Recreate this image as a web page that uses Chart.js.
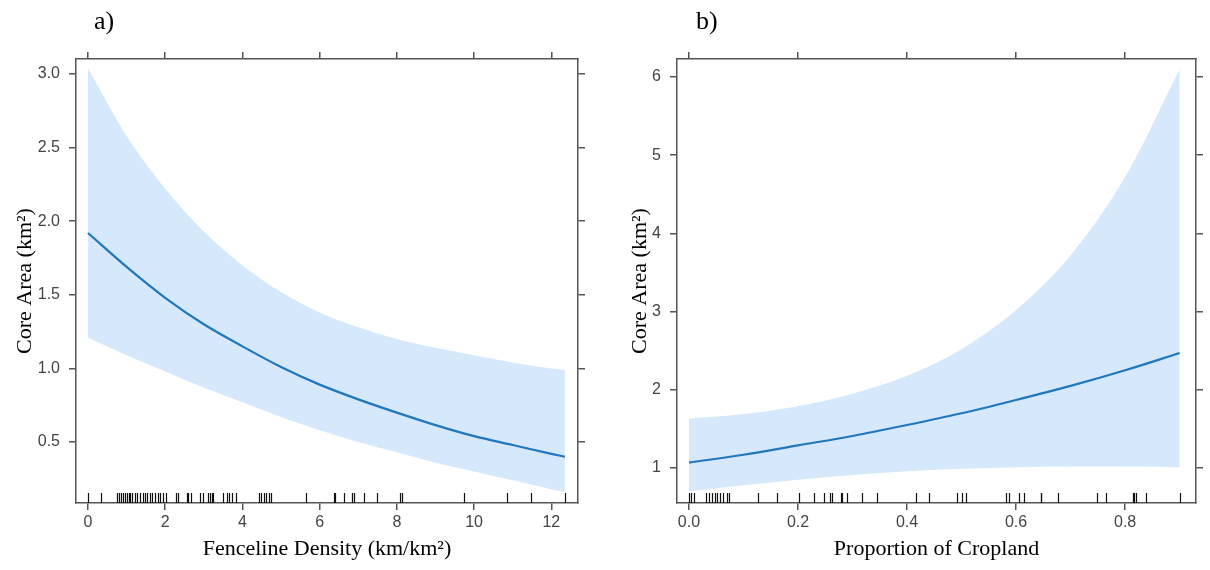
<!DOCTYPE html>
<html>
<head>
<meta charset="utf-8">
<script src="https://cdn.jsdelivr.net/npm/chart.js@4.4.0/dist/chart.umd.min.js"></script>
<style>
  body { margin: 0; background: #fff; }
  #wrap { position: relative; width: 1210px; height: 570px; }
  canvas { position: absolute; top: 0; }
  .lbl { position: absolute; top: 6px; font: 26px "Liberation Serif", serif; color: #000; }
</style>
</head>
<body>
<div id="wrap">
  <canvas id="chartA" width="605" height="570" style="left:0"></canvas>
  <canvas id="chartB" width="605" height="570" style="left:605px"></canvas>
  <div class="lbl" style="left:94px">a)</div>
  <div class="lbl" style="left:696px">b)</div>
</div>
<script>
// panel a - fenceline density
let densX = [0, 1, 2, 3, 4, 5, 6, 7, 8, 9, 10, 11, 12, 12.35];
let densFit = [1.92, 1.69, 1.48, 1.30, 1.15, 1.01, 0.89, 0.79, 0.70, 0.615, 0.54, 0.48, 0.42, 0.40];
let densUpper = [3.04, 2.58, 2.22, 1.93, 1.70, 1.52, 1.38, 1.28, 1.20, 1.14, 1.09, 1.04, 1.00, 0.99];
let densLower = [1.21, 1.09, 0.98, 0.87, 0.77, 0.67, 0.58, 0.50, 0.43, 0.36, 0.30, 0.24, 0.18, 0.16];
let densRug = [0.0, 0.34, 0.76, 0.80, 0.85, 0.92, 0.96, 1.01, 1.05, 1.09, 1.14, 1.22, 1.28, 1.35,
  1.42, 1.48, 1.54, 1.61, 1.67, 1.74, 1.82, 1.87, 1.95, 2.02, 2.27, 2.34, 2.56, 2.60, 2.67,
  2.90, 2.97, 3.11, 3.16, 3.20, 3.24, 3.50, 3.59, 3.65, 3.72, 3.83, 4.43, 4.49, 4.55, 4.62,
  4.69, 4.75, 5.65, 6.36, 6.41, 6.62, 6.83, 6.89, 7.16, 7.48, 8.09, 8.14, 9.73, 10.85, 11.46, 12.35];
let densTicksX = [0, 2, 4, 6, 8, 10, 12];
let densTicksY = [0.5, 1.0, 1.5, 2.0, 2.5, 3.0];

// panel b - proportion of cropland
let cropX = [0, 0.1, 0.2, 0.3, 0.4, 0.5, 0.6, 0.7, 0.8, 0.9];
let cropFit = [1.07, 1.17, 1.29, 1.41, 1.55, 1.70, 1.87, 2.05, 2.25, 2.47];
let cropUpper = [1.63, 1.69, 1.79, 1.95, 2.18, 2.52, 3.02, 3.72, 4.72, 6.10];
let cropLower = [0.70, 0.78, 0.85, 0.91, 0.96, 0.99, 1.01, 1.02, 1.02, 1.01];
let cropRug = [0.0, 0.003, 0.009, 0.031, 0.036, 0.042, 0.048, 0.052, 0.057, 0.063, 0.069, 0.074,
  0.127, 0.161, 0.201, 0.229, 0.247, 0.259, 0.262, 0.278, 0.281, 0.290, 0.317, 0.345, 0.417,
  0.440, 0.492, 0.501, 0.509, 0.581, 0.587, 0.605, 0.615, 0.645, 0.646, 0.676, 0.749, 0.765,
  0.814, 0.817, 0.820, 0.838, 0.9];
let cropTicksX = [0, 0.2, 0.4, 0.6, 0.8];
let cropTicksY = [1, 2, 3, 4, 5, 6];

const BAND = "#d6e8fb";
const LINE = "#1f77bd";
const FRAME = "#555555";

// rug marks along the bottom of the plot area
const rugPlugin = {
  id: "rug",
  afterDatasetsDraw(chart, args, opts) {
    const ctx = chart.ctx;
    const xs = chart.scales.x;
    const bottom = chart.chartArea.bottom;
    ctx.save();
    ctx.strokeStyle = "#111";
    ctx.lineWidth = 1.2;
    opts.values.forEach(v => {
      const px = Math.round(xs.getPixelForValue(v)) + 0.5;
      ctx.beginPath();
      ctx.moveTo(px, bottom - 10);
      ctx.lineTo(px, bottom);
      ctx.stroke();
    });
    ctx.restore();
  }
};

function pts(xs, ys) {
  return xs.map((x, i) => ({ x: x, y: ys[i] }));
}

function fixSize(prop, size) {
  return function (scale) { scale[prop] = size; };
}

function makeChart(id, cfg) {
  const tickFont = { family: "'Liberation Sans', Arial, sans-serif", size: 16 };
  const titleFont = { family: "'Liberation Serif', 'Times New Roman', serif", size: 22 };
  const grid = { drawOnChartArea: false, drawTicks: true, tickLength: 7, color: FRAME, lineWidth: 1.5 };
  const border = { display: true, color: FRAME, width: 1.5 };
  const fixedTicks = vals => function (scale) {
    scale.ticks = vals.map(v => ({ value: v }));
  };

  return new Chart(document.getElementById(id).getContext("2d"), {
    type: "line",
    data: {
      datasets: [
        {
          data: pts(cfg.x, cfg.lower),
          borderWidth: 0,
          pointRadius: 0,
          fill: false,
          order: 2,
          cubicInterpolationMode: "monotone",
        },
        {
          data: pts(cfg.x, cfg.upper),
          borderWidth: 0,
          pointRadius: 0,
          fill: "-1",
          backgroundColor: BAND,
          order: 1,
          cubicInterpolationMode: "monotone",
        },
        {
          data: pts(cfg.x, cfg.fit),
          borderColor: LINE,
          borderWidth: 2.2,
          pointRadius: 0,
          fill: false,
          order: 0,
          cubicInterpolationMode: "monotone",
        },
      ],
    },
    options: {
      responsive: false,
      animation: false,
      devicePixelRatio: 1,
      layout: { padding: 0 },
      plugins: {
        legend: { display: false },
        tooltip: { enabled: false },
        rug: { values: cfg.rug },
      },
      scales: {
        x: {
          type: "linear",
          position: "bottom",
          min: cfg.xmin,
          max: cfg.xmax,
          afterBuildTicks: fixedTicks(cfg.ticksX),
          afterFit: fixSize("height", 67),
          grid: grid,
          border: border,
          ticks: {
            font: tickFont,
            color: "#444",
            padding: 3,
            maxRotation: 0,
            autoSkip: false,
            callback: cfg.fmtX,
          },
          title: {
            display: true,
            text: cfg.xTitle,
            font: titleFont,
            color: "#000",
            padding: { top: 0, bottom: 8 },
          },
        },
        x2: {
          type: "linear",
          position: "top",
          min: cfg.xmin,
          max: cfg.xmax,
          afterBuildTicks: fixedTicks(cfg.ticksX),
          afterFit: fixSize("height", 59),
          grid: grid,
          border: border,
          ticks: { display: false },
        },
        y: {
          type: "linear",
          position: "left",
          min: cfg.ymin,
          max: cfg.ymax,
          afterBuildTicks: fixedTicks(cfg.ticksY),
          afterFit: fixSize("width", cfg.leftW),
          grid: grid,
          border: border,
          ticks: {
            font: tickFont,
            color: "#444",
            padding: 9,
            autoSkip: false,
            callback: cfg.fmtY,
          },
          title: {
            display: true,
            text: "Core Area (km\u00b2)",
            font: titleFont,
            color: "#000",
            padding: { top: cfg.yTitlePad, bottom: 0 },
          },
        },
        y2: {
          type: "linear",
          position: "right",
          min: cfg.ymin,
          max: cfg.ymax,
          afterBuildTicks: fixedTicks(cfg.ticksY),
          afterFit: fixSize("width", cfg.rightW),
          grid: grid,
          border: border,
          ticks: { display: false },
        },
      },
    },
    plugins: [rugPlugin],
  });
}

makeChart("chartA", {
  x: densX, fit: densFit, upper: densUpper, lower: densLower, rug: densRug,
  ticksX: densTicksX, ticksY: densTicksY,
  xmin: -0.31, xmax: 12.69, ymin: 0.086, ymax: 3.102,
  leftW: 76, rightW: 27, yTitlePad: 12,
  xTitle: "Fenceline Density (km/km\u00b2)",
  fmtX: v => String(v),
  fmtY: v => v.toFixed(1),
});

makeChart("chartB", {
  x: cropX, fit: cropFit, upper: cropUpper, lower: cropLower, rug: cropRug,
  ticksX: cropTicksX, ticksY: cropTicksY,
  xmin: -0.022, xmax: 0.93, ymin: 0.553, ymax: 6.23,
  leftW: 72, rightW: 14, yTitlePad: 22,
  xTitle: "Proportion of Cropland",
  fmtX: v => v.toFixed(1),
  fmtY: v => String(v),
});
</script>
</body>
</html>
